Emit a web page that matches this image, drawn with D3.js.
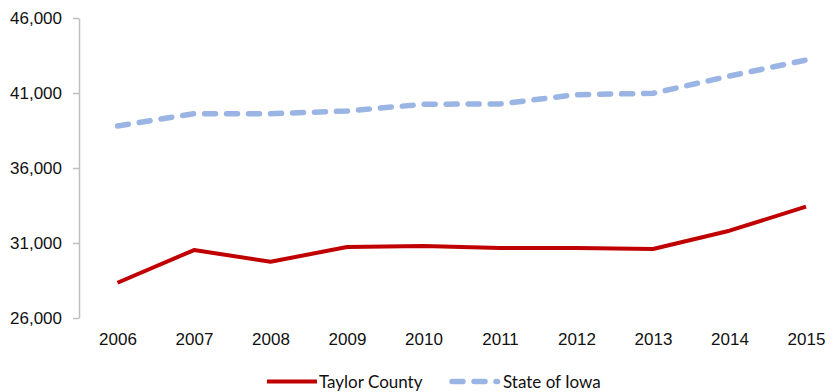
<!DOCTYPE html>
<html>
<head>
<meta charset="utf-8">
<script src="https://cdn.jsdelivr.net/npm/d3@7"></script>
<style>
  html, body { margin: 0; padding: 0; background: #fff; }
  svg { display: block; font-family: Lato, "Open Sans", sans-serif; }
  .tick text { fill: #111; font-size: 17px; }
  .legend text { fill: #111; font-size: 17px; }
</style>
</head>
<body>
<svg id="chart" width="834" height="392"></svg>
<script>
// Median household income, 2006–2015
const years = ["2006","2007","2008","2009","2010","2011","2012","2013","2014","2015"];
const taylorCounty = [28350, 30530, 29750, 30730, 30800, 30670, 30670, 30600, 31820, 33420];
const stateOfIowa  = [38800, 39620, 39620, 39800, 40250, 40270, 40890, 40980, 42130, 43200];
const yTicks = [26000, 31000, 36000, 41000, 46000];

const seriesList = [
  { name: "Taylor County", values: taylorCounty, color: "#c00000", width: 4, dash: null, cap: "butt" },
  { name: "State of Iowa", values: stateOfIowa, color: "#9ab5e4", width: 5.5, dash: "11,11", cap: "round" }
];

const svg = d3.select("#chart");

const x = d3.scalePoint().domain(years).range([117.5, 806]);
const y = d3.scaleLinear().domain([26000, 46000]).range([318, 18]);

// Value axis
const yAxis = svg.append("g")
  .attr("transform", "translate(79,0)")
  .call(d3.axisLeft(y).tickValues(yTicks).tickFormat(d3.format(",")).tickSize(6).tickSizeOuter(0).tickPadding(11));
yAxis.select(".domain").attr("stroke", "#bfbfbf").attr("stroke-width", 1.5);
yAxis.selectAll(".tick line").attr("stroke", "#bfbfbf").attr("stroke-width", 1.5);

// Year labels
const xAxis = svg.append("g")
  .attr("transform", "translate(0,333)")
  .call(d3.axisBottom(x).tickSize(0).tickPadding(0));
xAxis.select(".domain").remove();
xAxis.selectAll(".tick text").attr("dy", "0.71em");

// Series lines
const line = d3.line().x((d, i) => x(years[i])).y(d => y(d));
seriesList.forEach(s => {
  svg.append("path")
    .datum(s.values)
    .attr("d", line)
    .attr("fill", "none")
    .attr("stroke", s.color)
    .attr("stroke-width", s.width)
    .attr("stroke-linejoin", "round")
    .attr("stroke-linecap", s.cap)
    .attr("stroke-dasharray", s.dash);
});

// Legend
const legend = svg.append("g").attr("class", "legend");
const legendItems = [
  { s: seriesList[0], x0: 267, x1: 317, tx: 319 },
  { s: seriesList[1], x0: 452, x1: 497.5, tx: 503 }
];
legendItems.forEach(it => {
  legend.append("line")
    .attr("x1", it.x0).attr("x2", it.x1)
    .attr("y1", 381.5).attr("y2", 381.5)
    .attr("stroke", it.s.color)
    .attr("stroke-width", it.s.width)
    .attr("stroke-linecap", it.s.cap)
    .attr("stroke-dasharray", it.s.dash);
  legend.append("text")
    .attr("x", it.tx).attr("y", 388)
    .text(it.s.name);
});
</script>
</body>
</html>
